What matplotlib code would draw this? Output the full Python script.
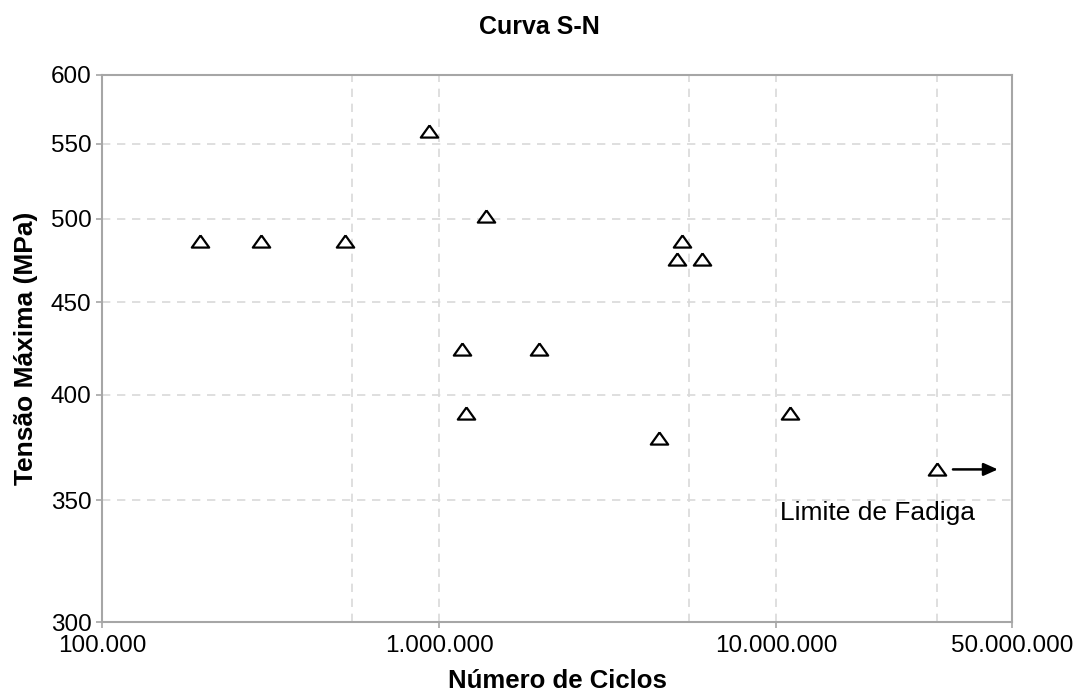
import matplotlib
matplotlib.use("Agg")
import matplotlib.pyplot as plt
from matplotlib.ticker import FixedLocator, FuncFormatter, NullLocator

plt.rcParams['font.family'] = ['Liberation Sans', 'DejaVu Sans']

ciclos = [1.95e5, 2.96e5, 5.25e5, 9.33e5, 1.377e6, 1.17e6, 1.98e6, 1.20e6,
          5.26e6, 5.06e6, 6.01e6, 4.48e6, 1.10e7, 3.0e7]
tensao = [486, 486, 486, 559, 502, 424, 424, 391,
          486, 475, 475, 379, 391, 364]

x_ticks = [1e5, 1e6, 1e7, 5e7]
y_ticks = [300, 350, 400, 450, 500, 550, 600]
x_grid = [5.5e5, 1e6, 5.5e6, 1e7, 3e7]
y_grid = [350, 400, 450, 500, 550]

limite_x = [3.34e7, 4.54e7]
limite_y = 364
limite_txt = (1.025e7, 341.3)

fig = plt.figure(figsize=(10.78, 6.94), dpi=100)
ax = fig.add_axes([0.0946, 0.1037, 0.8442, 0.7883])
ax.set_xscale('log')
ax.set_yscale('log')
ax.set_xlim(1e5, 5e7)
ax.set_ylim(300, 600)

for g in x_grid:
    ax.axvline(g, color='#d9d9d9', lw=1.2, ls=(0, (5, 4)), zorder=0)
for g in y_grid:
    ax.axhline(g, color='#d9d9d9', lw=1.2, ls=(0, (5, 4)), zorder=0)

tri = [(0, 0.7), (-1, -0.7), (1, -0.7), (0, 0.7)]
ax.plot(ciclos, tensao, ls='none', marker=tri, markersize=12.5,
        markerfacecolor='white', markeredgecolor='black', markeredgewidth=1.6,
        zorder=3)

ax.annotate('', xy=(limite_x[1], limite_y), xytext=(limite_x[0], limite_y),
            arrowprops=dict(arrowstyle='-|>,head_length=0.85,head_width=0.38',
                            color='black', lw=1.8, shrinkA=0, shrinkB=0),
            zorder=4)
ax.text(limite_txt[0], limite_txt[1], 'Limite de Fadiga', fontsize=19,
        ha='left', va='baseline')

def fmt(v, pos=None):
    return f"{int(round(v)):,}".replace(',', '.')

ax.xaxis.set_major_locator(FixedLocator(x_ticks))
ax.xaxis.set_minor_locator(NullLocator())
ax.xaxis.set_major_formatter(FuncFormatter(fmt))
ax.yaxis.set_major_locator(FixedLocator(y_ticks))
ax.yaxis.set_minor_locator(NullLocator())
ax.yaxis.set_major_formatter(FuncFormatter(fmt))

for s in ax.spines.values():
    s.set_color('#a6a6a6')
    s.set_linewidth(1.5)
ax.tick_params(axis='both', which='major', direction='out', length=4.5,
               color='#a6a6a6', width=1.2, labelsize=17.5)
ax.tick_params(axis='x', pad=4.5)
ax.tick_params(axis='y', pad=3)

ax.set_xlabel('Número de Ciclos', fontsize=18.5, fontweight='bold', va='center')
ax.xaxis.set_label_coords(0.5, -0.108)
ax.set_ylabel('Tensão Máxima (MPa)', fontsize=19, fontweight='bold', va='center')
ax.yaxis.set_label_coords(-0.0835, 0.5)
fig.text(0.5, 1 - 27.5 / 694, 'Curva S-N', fontsize=18,
         fontweight='bold', ha='center', va='center')

fig.savefig('out.png', dpi=100)
